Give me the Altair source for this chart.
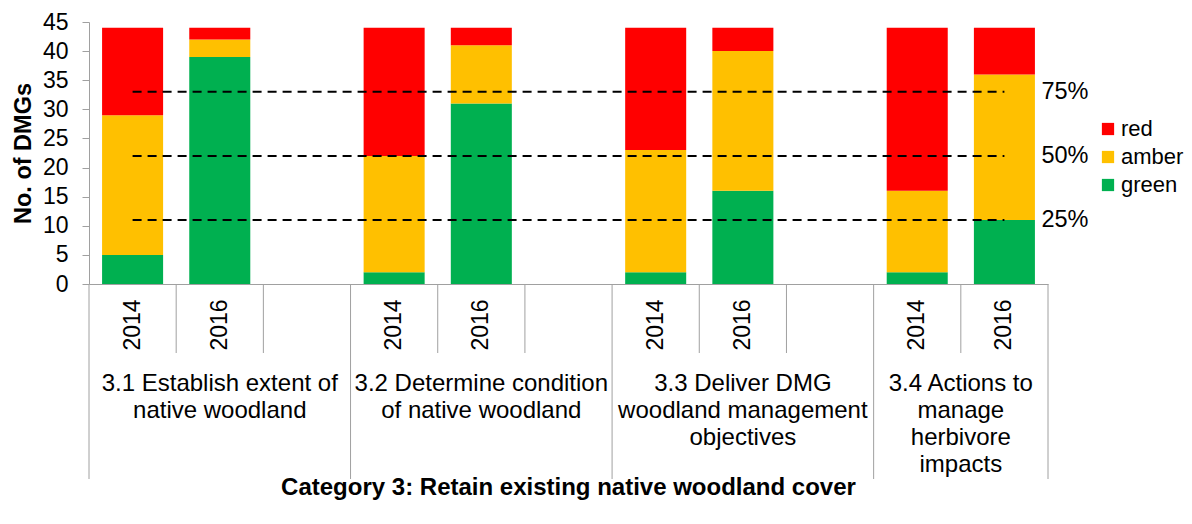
import altair as alt
import pandas as pd

# ---- data ----
group_labels = [
    ["3.1 Establish extent of", "native woodland"],
    ["3.2 Determine condition", "of native woodland"],
    ["3.3 Deliver DMG", "woodland management", "objectives"],
    ["3.4 Actions to", "manage", "herbivore", "impacts"],
]
years = ["2014", "2016"]
green = [5, 39, 2, 31, 2, 16, 2, 11]
amber = [24, 3, 20, 10, 21, 24, 14, 25]
red = [15, 2, 22, 3, 21, 4, 28, 8]
statuses = ["red", "amber", "green"]
status_colors = ["#FF0000", "#FFC000", "#00B050"]
thresholds = [11, 22, 33]
threshold_labels = ["25%", "50%", "75%"]
y_ticks = [0, 5, 10, 15, 20, 25, 30, 35, 40, 45]
y_title = "No. of DMGs"
x_title = "Category 3: Retain existing native woodland cover"

FONT = "Liberation Sans"
AXIS_COL = "#A0A0A0"

# ---- slot layout: each group = its years + spacer slot (except last group) ----
slots = []
for g in range(len(group_labels)):
    for yr in years:
        slots.append((g, yr))
    if g < len(group_labels) - 1:
        slots.append((g, None))
n_slots = len(slots)

series = {"green": green, "amber": amber, "red": red}
order_of = {"green": 0, "amber": 1, "red": 2}
bar_rows = []
for i in range(len(green)):
    g, yr = i // len(years), years[i % len(years)]
    s = slots.index((g, yr))
    for st in ["green", "amber", "red"]:
        bar_rows.append({"slot": s, "status": st, "value": series[st][i], "ord": order_of[st]})
bar_df = pd.DataFrame(bar_rows)

year_df = pd.DataFrame([{"pos": i + 0.5, "label": yr} for i, (g, yr) in enumerate(slots) if yr])

grp_rows = []
for g, lines in enumerate(group_labels):
    idx = [i for i, (gg, _) in enumerate(slots) if gg == g]
    grp_rows.append({"pos": (idx[0] + idx[-1] + 1) / 2, "label": lines})
grp_df = pd.DataFrame(grp_rows)

sep_rows = []
for b in range(n_slots + 1):
    long_ = b == 0 or b == n_slots or slots[b][0] != slots[b - 1][0]
    sep_rows.append({"pos": b, "kind": "long" if long_ else "short"})
sep_df = pd.DataFrame(sep_rows)

year_pos = [i + 0.5 for i, (g, yr) in enumerate(slots) if yr]
line_rows = []
for t, lab in zip(thresholds, threshold_labels):
    line_rows.append({"pos": year_pos[0], "v": t, "lab": lab})
    line_rows.append({"pos": year_pos[-1], "v": t, "lab": lab})
line_df = pd.DataFrame(line_rows)
lab_df = pd.DataFrame({"pos": [year_pos[-1]] * len(thresholds), "v": thresholds, "lab": threshold_labels})

title_df = pd.DataFrame({"pos": [n_slots / 2], "label": [x_title]})

W, H = 959, 262
qx = alt.Scale(domain=[0, n_slots], nice=False, zero=False)
yscale = alt.Scale(domain=[0, 45], nice=False)


def y_axis():
    return alt.Axis(values=y_ticks, title=y_title, grid=False, tickSize=7, labelPadding=14,
                    labelOverlap=False,
                    domainColor=AXIS_COL, tickColor=AXIS_COL, labelFontSize=23, labelFont=FONT,
                    labelColor="#000000", titleFont=FONT, titleFontSize=23.5, titleFontWeight="bold",
                    titleColor="#000000", titlePadding=7)


bars = alt.Chart(bar_df).mark_bar(strokeWidth=0).encode(
    x=alt.X("slot:O", scale=alt.Scale(domain=list(range(n_slots)), paddingInner=0.3, paddingOuter=0.15),
            axis=alt.Axis(labels=False, ticks=False, title=None, domainColor=AXIS_COL, grid=False)),
    y=alt.Y("value:Q", stack="zero", scale=yscale, axis=y_axis()),
    color=alt.Color("status:N", scale=alt.Scale(domain=statuses, range=status_colors),
                    legend=alt.Legend(title=None, orient="none", legendX=1008, legendY=96,
                                      symbolType="square", symbolSize=150, symbolStrokeWidth=0,
                                      labelFontSize=22, labelFont=FONT, labelColor="#000000",
                                      labelOffset=2, rowPadding=6, padding=0)),
    order=alt.Order("ord:Q"),
)

short_sep = alt.Chart(sep_df).transform_filter(alt.datum.kind == "short").mark_rule(
    color=AXIS_COL, strokeWidth=1).encode(
    x=alt.X("pos:Q", scale=qx, axis=None), y=alt.value(H), y2=alt.value(331))
long_sep = alt.Chart(sep_df).transform_filter(alt.datum.kind == "long").mark_rule(
    color=AXIS_COL, strokeWidth=1).encode(
    x=alt.X("pos:Q", scale=qx, axis=None), y=alt.value(H), y2=alt.value(457))

year_txt = alt.Chart(year_df).mark_text(angle=270, align="center", baseline="middle",
                                        font=FONT, fontSize=23, color="#000000").encode(
    x=alt.X("pos:Q", scale=qx, axis=None), y=alt.value(303), text="label:N")

grp_txt = alt.Chart(grp_df).mark_text(align="center", baseline="alphabetic", lineHeight=27,
                                      font=FONT, fontSize=24, color="#000000").encode(
    x=alt.X("pos:Q", scale=qx, axis=None), y=alt.value(369), text="label")

title_txt = alt.Chart(title_df).mark_text(align="center", baseline="alphabetic", font=FONT,
                                          fontSize=24, fontWeight="bold", color="#000000").encode(
    x=alt.X("pos:Q", scale=qx, axis=None), y=alt.value(473), text="label:N")

dash = alt.Chart(line_df).mark_line(color="#000000", strokeWidth=2, strokeDash=[9, 6]).encode(
    x=alt.X("pos:Q", scale=qx, axis=None), y=alt.Y("v:Q", scale=yscale, axis=y_axis()), detail="lab:N")

pct_txt = alt.Chart(lab_df).mark_text(align="left", baseline="middle", dx=37, font=FONT,
                                      fontSize=23.5, color="#000000").encode(
    x=alt.X("pos:Q", scale=qx, axis=None), y=alt.Y("v:Q", scale=yscale, axis=y_axis()), text="lab:N")

chart = alt.layer(bars, short_sep, long_sep, year_txt, grp_txt, title_txt, dash, pct_txt).resolve_scale(
    x="independent"
).properties(
    width=W, height=H,
    padding={"left": 81, "top": 14, "right": 136, "bottom": 220},
    autosize=alt.AutoSizeParams(type="none"),
).configure(font=FONT).configure_view(stroke="transparent", strokeWidth=0)

chart.save("out.html", embed_options={"renderer": "svg", "actions": False})
